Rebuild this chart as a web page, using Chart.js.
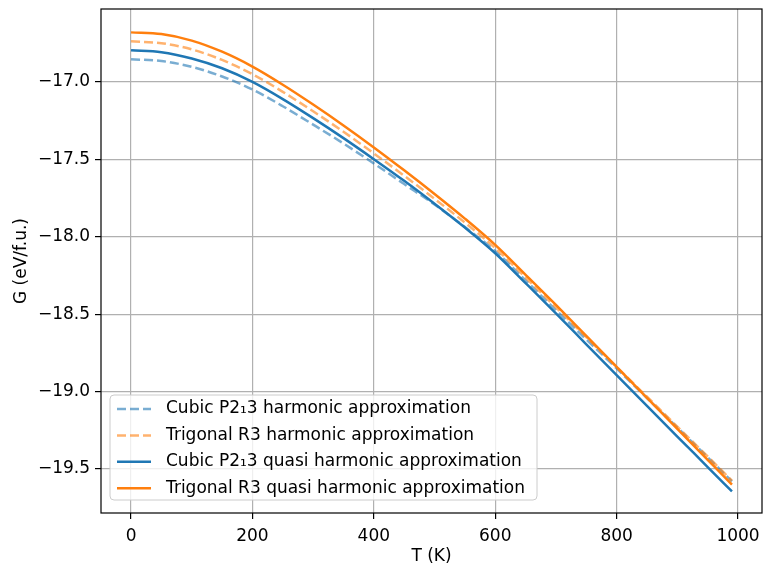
<!DOCTYPE html>
<html>
<head>
<meta charset="utf-8">
<script src="https://cdn.jsdelivr.net/npm/chart.js@4"></script>
<style>
  body { margin: 0; background: #fff; }
  canvas { display: block; }
</style>
</head>
<body>
<canvas id="gChart" width="763" height="565"></canvas>
<script>
// temperatures (K)
const temps = [0, 50, 100, 150, 200, 250, 300, 350, 400, 450, 500, 550, 600, 650, 700, 750, 800, 850, 900, 950, 990];

// G (eV/f.u.)
const cubicHarm = [-16.853, -16.864, -16.902, -16.964, -17.048, -17.156, -17.275, -17.397, -17.526, -17.659, -17.791,
    -17.937, -18.092, -18.281, -18.473, -18.662, -18.850, -19.041, -19.232, -19.424, -19.580];
const trigHarm = [-16.737, -16.749, -16.789, -16.857, -16.949, -17.063, -17.189, -17.321, -17.461, -17.605, -17.754,
    -17.908, -18.073, -18.263, -18.455, -18.648, -18.840, -19.033, -19.226, -19.419, -19.575];
const cubicQuasi = [-16.795, -16.807, -16.848, -16.911, -16.999, -17.110, -17.233, -17.362, -17.498, -17.638, -17.786,
    -17.940, -18.106, -18.299, -18.494, -18.694, -18.893, -19.092, -19.290, -19.487, -19.645];
const trigQuasi = [-16.679, -16.690, -16.732, -16.804, -16.900, -17.017, -17.145, -17.280, -17.422, -17.570, -17.723,
    -17.882, -18.052, -18.245, -18.440, -18.640, -18.840, -19.040, -19.240, -19.440, -19.600];

const xTicks = [0, 200, 400, 600, 800, 1000];
const yTicks = [-19.5, -19.0, -18.5, -18.0, -17.5, -17.0];

const FONT = 'DejaVu Sans';
const FSIZE = 17;

function toPoints(ys) {
    return temps.map((t, i) => ({ x: t, y: ys[i] }));
}

function minus(v) {
    return v.toFixed(1).replace('-', '\u2212');
}

// box round the plot, like matplotlib spines
const framePlugin = {
    id: 'frame',
    afterDraw(chart) {
        const a = chart.chartArea;
        const ctx = chart.ctx;
        ctx.save();
        ctx.strokeStyle = '#000';
        ctx.lineWidth = 1.2;
        ctx.strokeRect(a.left, a.top, a.right - a.left, a.bottom - a.top);
        ctx.restore();
    }
};

// legend drawn inside the plot, lower left
const legendPlugin = {
    id: 'innerLegend',
    afterDraw(chart) {
        const ctx = chart.ctx;
        const x0 = 110, y0 = 395, w = 427, h = 105;
        ctx.save();
        ctx.beginPath();
        ctx.roundRect(x0, y0, w, h, 4);
        ctx.fillStyle = 'rgba(255,255,255,0.8)';
        ctx.fill();
        ctx.strokeStyle = '#cccccc';
        ctx.lineWidth = 1;
        ctx.stroke();

        ctx.font = FSIZE + 'px "' + FONT + '"';
        ctx.textBaseline = 'middle';
        ctx.textAlign = 'left';
        chart.data.datasets.forEach((ds, i) => {
            const y = 409 + i * 26.4;
            ctx.beginPath();
            ctx.strokeStyle = ds.borderColor;
            ctx.lineWidth = ds.borderWidth;
            ctx.setLineDash(ds.borderDash || []);
            ctx.moveTo(117, y);
            ctx.lineTo(151, y);
            ctx.stroke();
            ctx.setLineDash([]);
            ctx.fillStyle = '#000';
            ctx.fillText(ds.label, 166, y);
        });
        ctx.restore();
    }
};

const datasets = [
    { label: 'Cubic P2\u20813 harmonic approximation', data: toPoints(cubicHarm),
      borderColor: 'rgba(31,119,180,0.6)', borderDash: [9, 4], order: 4 },
    { label: 'Trigonal R3 harmonic approximation', data: toPoints(trigHarm),
      borderColor: 'rgba(255,127,14,0.6)', borderDash: [9, 4], order: 3 },
    { label: 'Cubic P2\u20813 quasi harmonic approximation', data: toPoints(cubicQuasi),
      borderColor: '#1f77b4', order: 2 },
    { label: 'Trigonal R3 quasi harmonic approximation', data: toPoints(trigQuasi),
      borderColor: '#ff7f0e', order: 1 }
];
datasets.forEach(ds => {
    ds.borderWidth = 2.5;
    ds.pointRadius = 0;
    ds.fill = false;
    ds.cubicInterpolationMode = 'monotone';
});

const tickFont = { family: FONT, size: FSIZE };

new Chart(document.getElementById('gChart'), {
    type: 'line',
    data: { datasets: datasets },
    options: {
        responsive: false,
        animation: false,
        devicePixelRatio: 1,
        layout: { padding: { top: 9, right: 1, left: 0, bottom: 0 } },
        plugins: {
            legend: { display: false },
            tooltip: { enabled: false }
        },
        scales: {
            x: {
                type: 'linear',
                min: -49.5,
                max: 1039.5,
                afterBuildTicks: s => { s.ticks = xTicks.map(v => ({ value: v })); },
                afterFit: s => { s.height = 52; s.paddingLeft = 0; s.paddingRight = 0; },
                ticks: { font: tickFont, color: '#000', padding: 7, maxRotation: 0,
                         callback: v => String(v) },
                grid: { color: '#b0b0b0', lineWidth: 1.2, tickColor: '#000', tickLength: 6, tickWidth: 1.2 },
                border: { display: false },
                title: { display: true, text: 'T (K)', font: tickFont, color: '#000', padding: { top: 0, bottom: -2 } }
            },
            y: {
                type: 'linear',
                min: -19.784,
                max: -16.528,
                afterBuildTicks: s => { s.ticks = yTicks.map(v => ({ value: v })); },
                afterFit: s => { s.width = 101; s.paddingTop = 0; s.paddingBottom = 0; },
                ticks: { font: tickFont, color: '#000', padding: 5, callback: v => minus(v) },
                grid: { color: '#b0b0b0', lineWidth: 1.2, tickColor: '#000', tickLength: 6, tickWidth: 1.2 },
                border: { display: false },
                title: { display: true, text: 'G (eV/f.u.)', font: tickFont, color: '#000', padding: { top: 11, bottom: 0 } }
            }
        }
    },
    plugins: [framePlugin, legendPlugin]
});
</script>
</body>
</html>
